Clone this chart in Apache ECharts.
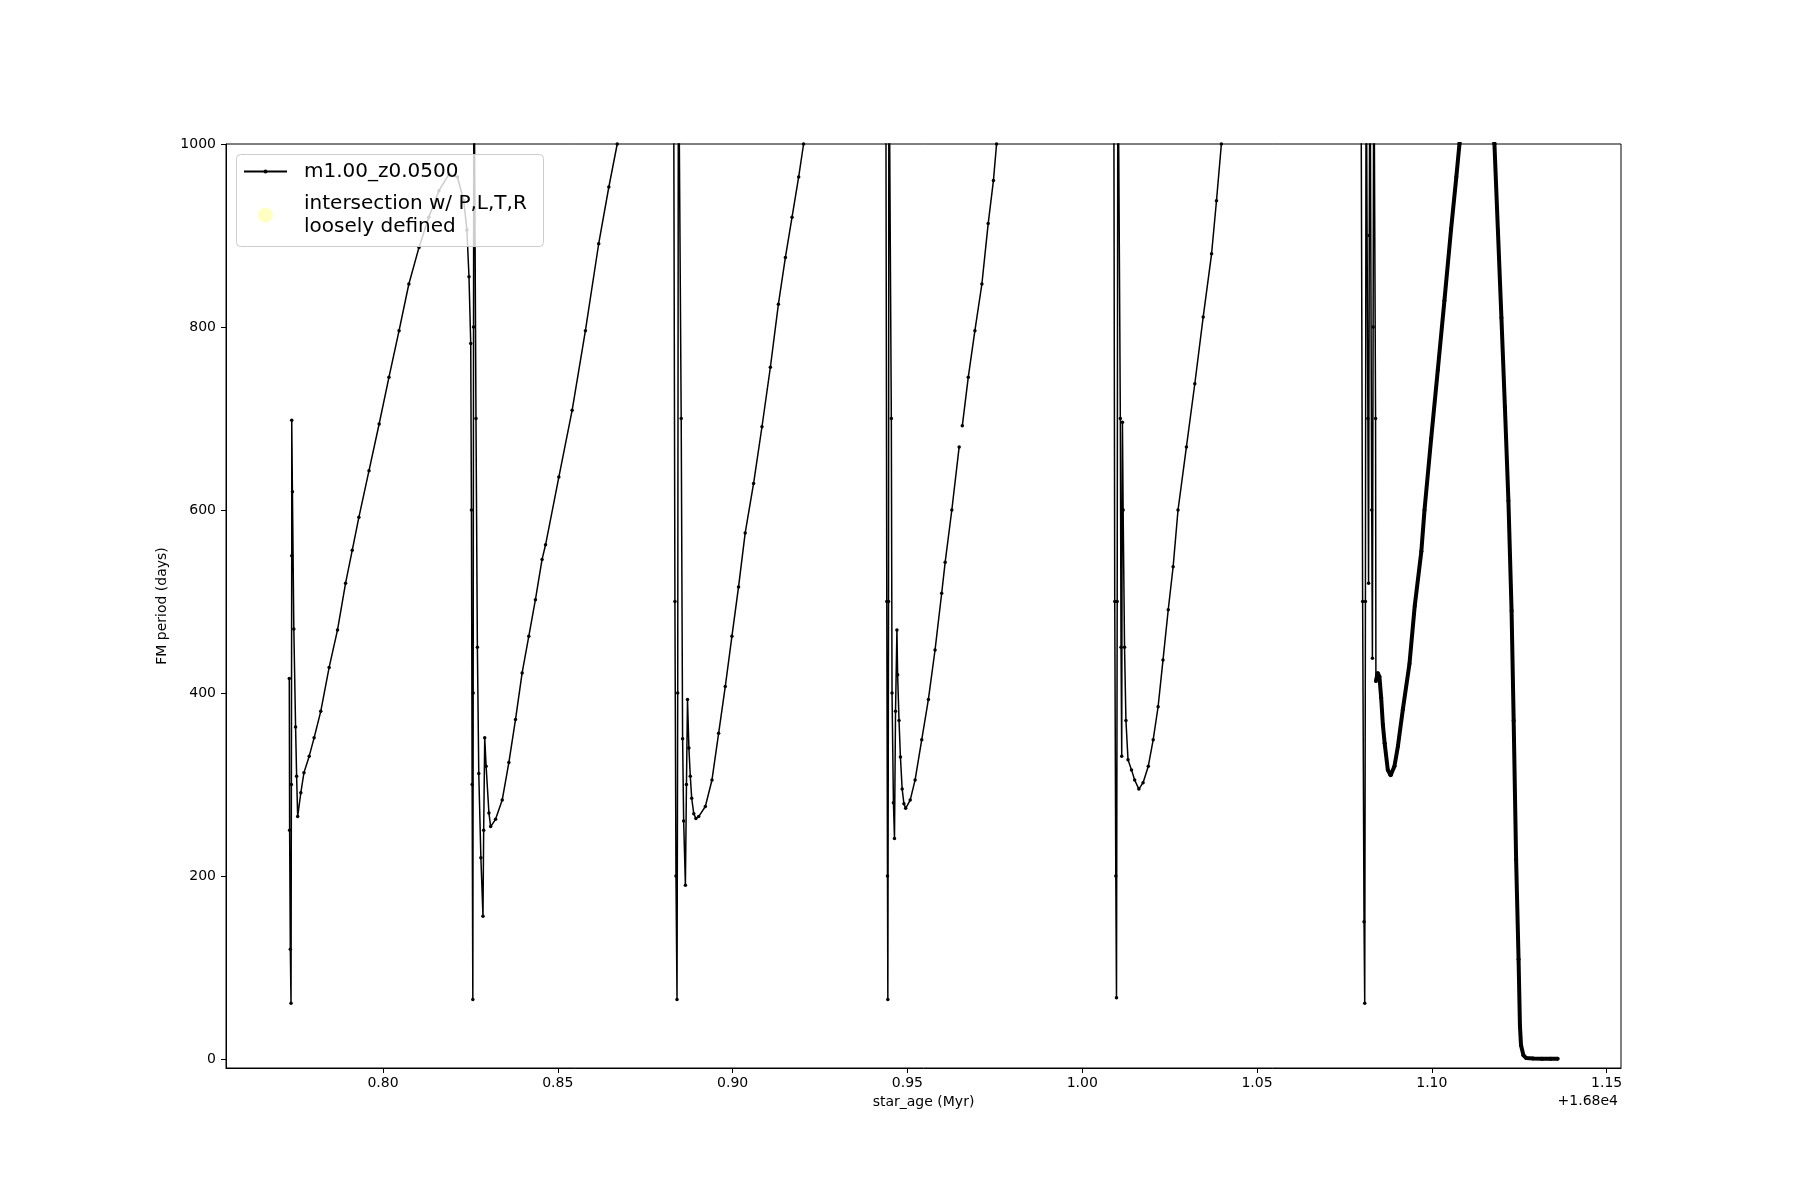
<!DOCTYPE html>
<html>
<head>
<meta charset="utf-8">
<title>FM period vs star age</title>
<script src="https://cdn.jsdelivr.net/npm/echarts@6/dist/echarts.min.js"></script>
<style>
  html, body { margin: 0; background: #fff; }
  #chart { width: 1800px; height: 1200px; }
</style>
</head>
<body>
<div id="chart"></div>
<script>
  // star_age in Myr, stored as offset from 1.68e4 (the axis shows "+1.68e4")
  const ageOffsetText = '+1.68e4'

  // thermal pulse 1 + interpulse ramp
  const age1 = [0.7732, 0.7733, 0.7735, 0.7737, 0.7738, 0.7739, 0.7739, 0.7741, 0.7745, 0.7750, 0.7753, 0.7756,
    0.7765, 0.7774, 0.7789, 0.7803, 0.7822, 0.7846, 0.7870, 0.7893, 0.7912, 0.7931, 0.7960, 0.7989, 0.8017,
    0.8046, 0.8074, 0.8103, 0.8131, 0.8160, 0.8189, 0.8213, 0.8231, 0.8240, 0.8246, 0.8251]
  const period1 = [416, 250, 120, 61, 300, 550, 698, 620, 470, 363, 309, 265,
    291, 313, 331, 351, 380, 428, 469, 520, 556, 592, 643, 694, 745,
    796, 847, 887, 920, 949, 967, 964, 938, 906, 855, 782]

  // pulse 2
  const age2 = [0.8253, 0.8255, 0.8257, 0.8258, 0.8259, 0.8260, 0.8263, 0.8266, 0.8270, 0.8274, 0.8280, 0.8286,
    0.8288, 0.8291, 0.8295, 0.8303, 0.8308, 0.8322, 0.8341, 0.8360, 0.8379, 0.8398, 0.8417, 0.8436, 0.8455,
    0.8465, 0.8503, 0.8541, 0.8579, 0.8617, 0.8646, 0.8670, 0.8690]
  const period2 = [600, 300, 65, 400, 800, 1150, 1150, 700, 450, 312, 220, 156,
    250, 351, 320, 269, 254, 262, 283, 324, 371, 422, 462, 502, 546,
    562, 636, 709, 796, 891, 953, 1000, 1060]

  // pulse 3
  const age3 = [0.8831, 0.8835, 0.8838, 0.8841, 0.8843, 0.8845, 0.8850, 0.8853, 0.8857, 0.8860, 0.8865, 0.8868,
    0.8871, 0.8875, 0.8879, 0.8883, 0.8889, 0.8895, 0.8903, 0.8922, 0.8941, 0.8960, 0.8979, 0.8998, 0.9017,
    0.9036, 0.9060, 0.9084, 0.9108, 0.9131, 0.9151, 0.9170, 0.9189, 0.9203, 0.9220]
  const period3 = [1150, 500, 200, 65, 400, 1150, 1150, 700, 350, 260, 190, 300,
    393, 340, 309, 285, 268, 263, 265, 276, 305, 356, 407, 462, 516,
    575, 629, 691, 756, 825, 876, 920, 964, 1000, 1060]

  // pulse 4 (the ramp has a gap near 680 days)
  const age4a = [0.9438, 0.9441, 0.9443, 0.9444, 0.9446, 0.9447, 0.9452, 0.9454, 0.9456, 0.9460, 0.9463, 0.9466,
    0.9470, 0.9472, 0.9476, 0.9480, 0.9485, 0.9490, 0.9495, 0.9508, 0.9522, 0.9541, 0.9560, 0.9579, 0.9598,
    0.9608, 0.9627, 0.9648]
  const period4a = [1150, 500, 200, 65, 500, 1150, 1150, 700, 400, 280, 241, 380,
    469, 420, 370, 330, 295, 279, 274, 283, 305, 349, 393, 447, 509,
    543, 600, 669]
  const age4b = [0.9657, 0.9674, 0.9693, 0.9713, 0.9731, 0.9746, 0.9755, 0.9770]
  const period4b = [692, 745, 796, 847, 913, 960, 1000, 1060]

  // pulse 5
  const age5 = [1.0090, 1.0093, 1.0096, 1.0098, 1.0100, 1.0102, 1.0106, 1.0109, 1.0111, 1.0113, 1.0114, 1.0115,
    1.0117, 1.0121, 1.0125, 1.0131, 1.0141, 1.0150, 1.0162, 1.0174, 1.0189, 1.0203, 1.0217, 1.0231, 1.0246,
    1.0260, 1.0274, 1.0298, 1.0322, 1.0346, 1.0370, 1.0384, 1.0398, 1.0415]
  const period5 = [1150, 500, 200, 67, 500, 1150, 1150, 700, 450, 331, 600, 696,
    600, 450, 370, 327, 316, 305, 295, 302, 320, 349, 385, 436, 491,
    538, 600, 669, 738, 811, 880, 938, 1000, 1060]

  // pulse 6 spikes
  const age6 = [1.0797, 1.0802, 1.0806, 1.0808, 1.0810, 1.0812, 1.0815, 1.0817, 1.0819, 1.0821, 1.0823, 1.0826,
    1.0828, 1.0830, 1.0832, 1.0834, 1.0837, 1.0839, 1.0840]
  const period6 = [1150, 500, 150, 61, 500, 1150, 1150, 700, 520, 900, 1150, 1150,
    600, 438, 800, 1150, 1150, 700, 413]

  // last interpulse + final drop (densely sampled in the model, drawn thick)
  const ageTail = [1.0840, 1.0845, 1.0850, 1.0855, 1.0860, 1.0865, 1.0874, 1.0882, 1.0893, 1.0903, 1.0917, 1.0936,
    1.0951, 1.0970, 1.0979, 1.0998, 1.1017, 1.1036, 1.1055, 1.1070, 1.1079, 1.1110, 1.1150, 1.1179,
    1.1189, 1.1199, 1.1209, 1.1219, 1.1228, 1.1234, 1.1241, 1.1248, 1.1252, 1.1255, 1.1262, 1.1270,
    1.1290, 1.1315, 1.1340, 1.1360]
  const periodTail = [413, 422, 418, 395, 365, 345, 316, 310, 320, 342, 382, 432,
    495, 555, 600, 678, 753, 829, 907, 964, 1000, 1120, 1120, 1000,
    905, 810, 712, 610, 490, 370, 218, 109, 36, 15, 4, 1,
    0.5, 0.4, 0.3, 0.3]

  // intersection points (none fall in this window)
  const intersectAge = []
  const intersectPeriod = []

  const xTicks = [0.80, 0.85, 0.90, 0.95, 1.00, 1.05, 1.10, 1.15]
  const yTicks = [0, 200, 400, 600, 800, 1000]

  const seriesName = 'm1.00_z0.0500'
  const intersectName = 'intersection w/ P,L,T,R\nloosely defined'

  function pairs(ages, periods) {
    return ages.map((a, i) => [a, periods[i]])
  }

  const mainData = [].concat(
    pairs(age1, period1),
    pairs(age2, period2),
    pairs(age3, period3),
    pairs(age4a, period4a),
    [[0.9652, null]],
    pairs(age4b, period4b),
    pairs(age5, period5),
    pairs(age6, period6)
  )
  const tailData = pairs(ageTail, periodTail)

  const font = 'DejaVu Sans'
  const legendText = { fontFamily: font, fontSize: 20, color: '#000', lineHeight: 23, padding: [0, 0, 0, 12] }

  const chart = echarts.init(document.getElementById('chart'))
  chart.setOption({
    animation: false,
    backgroundColor: '#fff',
    grid: {
      left: 226, right: 179, top: 144, bottom: 132,
      show: true, borderColor: '#000', borderWidth: 1, backgroundColor: 'transparent'
    },
    // two legends so the line marker and the circle can have different sizes
    legend: [
      {
        left: 243, top: 160,
        padding: 0,
        itemWidth: 43,
        itemHeight: 5,
        lineStyle: { width: 2 },
        textStyle: legendText,
        z: 20,
        data: [seriesName]
      },
      {
        left: 258, top: 192,
        padding: 0,
        itemWidth: 43,
        itemHeight: 15,
        textStyle: legendText,
        z: 20,
        data: [intersectName]
      }
    ],
    xAxis: {
      type: 'value',
      min: 0.7551,
      max: 1.1541,
      name: 'star_age (Myr)',
      nameLocation: 'middle',
      nameGap: 26,
      nameTextStyle: { fontFamily: font, fontSize: 14, color: '#000' },
      axisLine: { show: true, onZero: false, lineStyle: { color: '#000', width: 1 } },
      axisTick: { show: true, length: 5, customValues: xTicks, lineStyle: { color: '#000' } },
      axisLabel: {
        customValues: xTicks, margin: 8,
        fontFamily: font, fontSize: 14, color: '#000',
        formatter: v => v.toFixed(2)
      },
      splitLine: { show: false }
    },
    yAxis: {
      type: 'value',
      min: -9.8,
      max: 1000,
      name: 'FM period (days)',
      nameLocation: 'middle',
      nameGap: 52,
      nameTextStyle: { fontFamily: font, fontSize: 14, color: '#000' },
      axisLine: { show: true, onZero: false, lineStyle: { color: '#000', width: 1 } },
      axisTick: { show: true, length: 5, customValues: yTicks, lineStyle: { color: '#000' } },
      axisLabel: {
        customValues: yTicks, margin: 10,
        fontFamily: font, fontSize: 14, color: '#000',
        formatter: v => String(Math.round(v))
      },
      splitLine: { show: false }
    },
    graphic: [
      {
        // legend frame
        type: 'rect', left: 236, top: 154, z: 10,
        shape: { width: 307, height: 92, r: 4 },
        style: { fill: 'rgba(255,255,255,0.8)', stroke: '#cccccc', lineWidth: 1 }
      },
      {
        type: 'text', right: 182, top: 1094,
        style: { text: ageOffsetText, font: '14px "DejaVu Sans"', fill: '#000' }
      }
    ],
    series: [
      {
        name: seriesName,
        type: 'line',
        data: mainData,
        symbol: 'circle',
        symbolSize: 3.5,
        showAllSymbol: true,
        connectNulls: false,
        clip: true,
        lineStyle: { color: '#000', width: 1.5 },
        itemStyle: { color: '#000' },
        emphasis: { disabled: true }
      },
      {
        name: seriesName,
        type: 'line',
        data: tailData,
        symbol: 'circle',
        symbolSize: 4,
        showAllSymbol: true,
        clip: true,
        lineStyle: { color: '#000', width: 4 },
        itemStyle: { color: '#000' },
        emphasis: { disabled: true }
      },
      {
        name: intersectName,
        type: 'scatter',
        data: pairs(intersectAge, intersectPeriod),
        symbolSize: 14,
        itemStyle: { color: '#ffffb3' }
      }
    ]
  })
</script>
</body>
</html>
